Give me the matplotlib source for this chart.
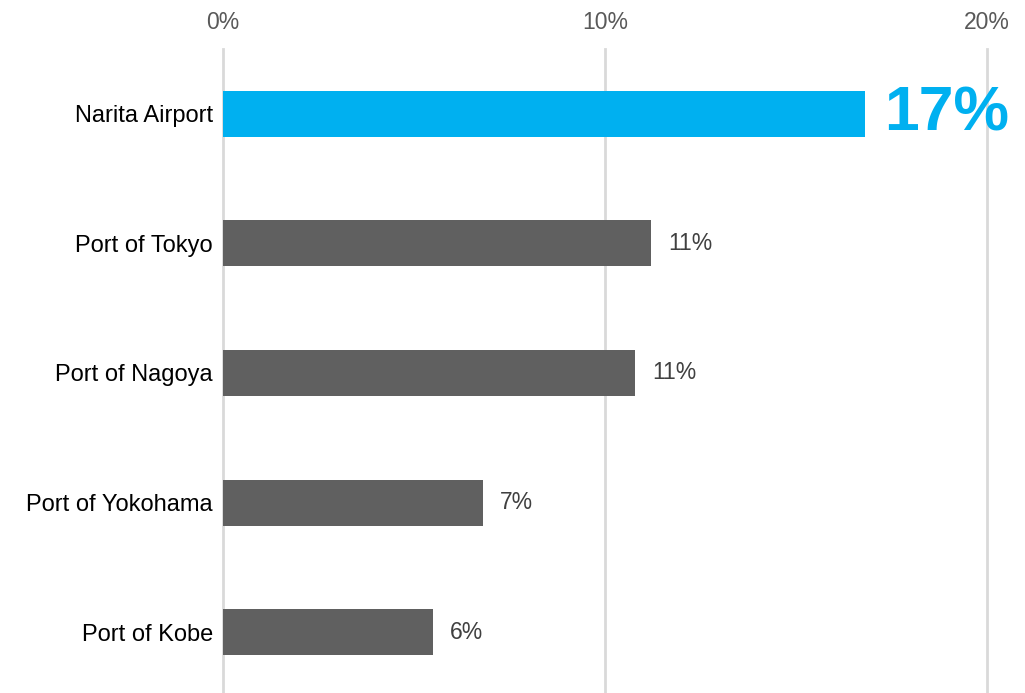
import matplotlib.pyplot as plt

plt.rcParams['font.family'] = ['Liberation Sans', 'DejaVu Sans']

locations = ["Narita Airport", "Port of Tokyo", "Port of Nagoya", "Port of Yokohama", "Port of Kobe"]
shares = [16.8, 11.2, 10.8, 6.8, 5.5]
labels = ["17%", "11%", "11%", "7%", "6%"]
ticks = [0, 10, 20]
tick_labels = ["0%", "10%", "20%"]

highlight = "#00B0F0"
grey = "#606060"


def plot_data():
    fig = plt.figure(figsize=(10.25, 6.93), dpi=100)
    ax = fig.add_axes([0.2173, 0.0, 0.7457, 0.9293])

    pos = list(range(len(locations)))
    colors = [highlight] + [grey] * (len(locations) - 1)
    ax.barh(pos, shares, height=0.355, color=colors, zorder=3)

    for i, (v, lab) in enumerate(zip(shares, labels)):
        if i == 0:
            ax.text(v + 0.5, i, lab, va="center", ha="left", fontsize=45,
                    fontweight="bold", color=highlight)
        else:
            ax.text(v + 0.45, i, lab, va="center", ha="left", fontsize=16.5, color="#404040")

    ax.set_xlim(0, 20)
    ax.set_ylim(4.47, -0.5)
    ax.set_xticks(ticks)
    ax.set_xticklabels(tick_labels, fontsize=16.5, color="#595959")
    ax.xaxis.tick_top()
    ax.tick_params(axis="x", length=0, pad=11)
    ax.set_yticks(pos)
    ax.set_yticklabels(locations, fontsize=17, color="black")
    ax.tick_params(axis="y", length=0, pad=7)
    ax.grid(axis="x", color="#d9d9d9", linewidth=2, zorder=0)
    for gl in ax.get_xgridlines():
        gl.set_clip_on(False)
    for s in ax.spines.values():
        s.set_visible(False)

    fig.savefig("out.png", dpi=100)


if __name__ == '__main__':
    plot_data()
